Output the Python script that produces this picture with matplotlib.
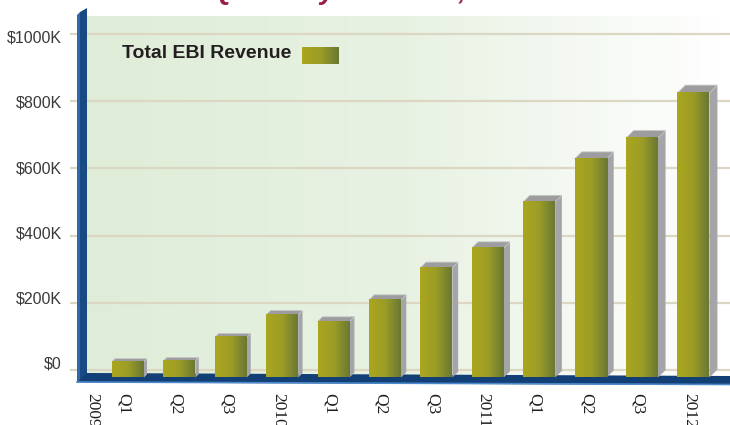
import numpy as np
import matplotlib
matplotlib.use('Agg')
import matplotlib.pyplot as plt
from matplotlib.patches import Polygon
from matplotlib.colors import LinearSegmentedColormap

# data (quarterly revenue, $K)
x_labels = ['2009', 'Q1', 'Q2', 'Q3', '2010', 'Q1', 'Q2', 'Q3',
            '2011', 'Q1', 'Q2', 'Q3', '2012']
revenue = [25, 27, 97, 164, 144, 208, 304, 363, 500, 628, 690, 824]
y_ticks = [0, 200, 400, 600, 800, 1000]
y_tick_labels = ['$0', '$200K', '$400K', '$600K', '$800K', '$1000K']
title = 'EBI Quarterly Revenue, 2009 - 2012'
legend_label = 'Total EBI Revenue'

sans = ['Liberation Sans', 'DejaVu Sans']
serif = ['Liberation Serif', 'DejaVu Serif']

# pixel helpers for the pseudo-3D frame
XU = 51.4    # px per bar slot
YU = 0.336   # px per $K
fx = lambda px: (px - 128) / XU
fy = lambda py: (370 - py) / YU

bar_cmap = LinearSegmentedColormap.from_list('bar', ['#aba61f', '#9c9d27', '#6a7833'])
bg_cmap = LinearSegmentedColormap.from_list('bg', ['#dfedd8', '#e8f2e3', '#ffffff'])
grad = np.linspace(0, 1, 64).reshape(1, -1)

fig = plt.figure(figsize=(7.3, 4.25), dpi=100)
ax = fig.add_axes([70 / 730, 35 / 425, 660 / 730, 390 / 425])

# back wall
ax.imshow(grad, extent=(fx(87), fx(730), fy(376), fy(16)), cmap=bg_cmap,
          aspect='auto', zorder=0)
ax.hlines(y_ticks, fx(70), fx(730), color='#dcd7c3', lw=1.6, zorder=1)

# left wall
ax.add_patch(Polygon([(fx(77), fy(382)), (fx(77), fy(15)), (fx(80), fy(12)),
                      (fx(80), fy(382))], closed=True, fc='#2f68ab', ec='none', zorder=2))
ax.add_patch(Polygon([(fx(80), fy(382)), (fx(80), fy(12)), (fx(87), fy(8)),
                      (fx(87), fy(374))], closed=True, fc='#184a84', ec='none', zorder=2))
# floor
ax.add_patch(Polygon([(fx(77), fy(382.5)), (fx(87), fy(373)), (fx(730), fy(376)),
                      (fx(730), fy(385))], closed=True, fc='#123f75', ec='none', zorder=2))
ax.plot([fx(77), fx(730)], [fy(382), fy(384.5)], color='#4d88c9', lw=1.2, zorder=3)

# bars
w = 32 / XU
base = fy(377.5)
for i, v in enumerate(revenue):
    d = 3 + 5 * i / (len(revenue) - 1)
    dx, dy = d / XU, d / YU
    l, r = i - w / 2, i + w / 2
    ax.add_patch(Polygon([(r, base), (r + dx, base + dy), (r + dx, v + dy), (r, v)],
                         closed=True, fc='#a4a4a9', ec='none', zorder=4))
    ax.add_patch(Polygon([(l, v), (l + dx, v + dy), (r + dx, v + dy), (r, v)],
                         closed=True, fc='#9d9d9f', ec='#c6c6c6', lw=0.6, zorder=4))
    ax.imshow(grad, extent=(l, r, base, v), cmap=bar_cmap, aspect='auto', zorder=5)

# axes text
x_ticks = [-0.7] + [i - 0.08 for i in range(len(revenue))]
ax.set_xticks(x_ticks, x_labels, rotation=270, fontsize=12.5, color='#231f20',
              fontfamily=serif)
ax.set_yticks([22 + 0.97 * v for v in y_ticks], y_tick_labels, fontsize=11.5,
              color='#3a3a3a', fontfamily=sans)
ax.tick_params(axis='x', length=0, pad=2.2)
ax.tick_params(axis='y', length=0, pad=5.8)
for s in ax.spines.values():
    s.set_visible(False)
ax.set_xlim(fx(70), fx(730))
ax.set_ylim(fy(390), fy(0))

# legend
fig.text(122 / 730, 1 - 53 / 425, legend_label, ha='left', va='center',
         fontsize=14, fontweight='bold', color='#231f20', family=sans)
sax = fig.add_axes([302 / 730, 1 - 64 / 425, 36 / 730, 17 / 425])
sax.imshow(grad, cmap=bar_cmap, aspect='auto')
sax.axis('off')

# title (almost entirely cut off at the top edge)
fig.text(390 / 730, 1 + 1 / 425, title, ha='center', va='baseline', fontsize=20,
         fontweight='bold', style='italic', color='#9b1d4e', family=sans)

plt.savefig('out.png', dpi=100)
